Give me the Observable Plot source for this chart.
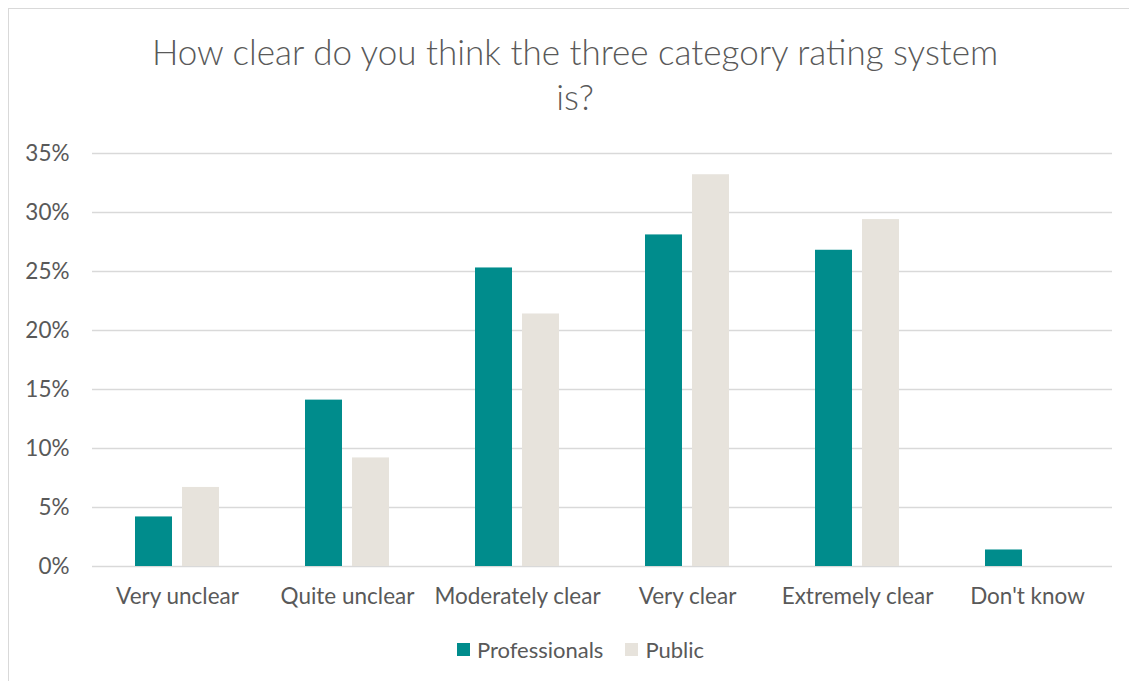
<!DOCTYPE html>
<html>
<head>
<meta charset="utf-8">
<script src="https://cdn.jsdelivr.net/npm/d3@7"></script>
<script src="https://cdn.jsdelivr.net/npm/@observablehq/plot@0.6"></script>
<style>
  html, body { margin: 0; padding: 0; background: #fff; }
  body { width: 1129px; height: 681px; position: relative; overflow: hidden; font-family: Lato, "Open Sans", sans-serif; }
  #frame { position: absolute; left: 8px; top: 8px; width: 1140px; height: 700px; border: 1px solid #d9d9d9; box-sizing: border-box; }
  #title { position: absolute; left: 0; top: 29px; width: 1150px; text-align: center; font-family: Lato, sans-serif; font-weight: 300; font-size: 35px; line-height: 45px; color: #595959; }
  #chart { position: absolute; left: 0; top: 130px; }
  #legend { position: absolute; left: 0; top: 636px; width: 1129px; display: flex; justify-content: center; font-size: 22px; color: #595959; padding-left: 32px; box-sizing: border-box; }
  .item { display: flex; align-items: center; margin: 0 11px; }
  .sw { width: 13px; height: 13px; margin-right: 7px; }
</style>
</head>
<body>
<div id="frame"></div>
<div id="title">How clear do you think the three category rating system<br>is?</div>
<div id="chart"></div>
<div id="legend"></div>
<script>
const categories = ["Very unclear", "Quite unclear", "Moderately clear", "Very clear", "Extremely clear", "Don't know"];
const series = ["Professionals", "Public"];
const professionals = [4.2, 14.1, 25.3, 28.1, 26.8, 1.4];
const publicVals = [6.7, 9.2, 21.4, 33.2, 29.4, 0];
const colors = ["#008C8C", "#E7E3DC"];
const yTicks = [0, 5, 10, 15, 20, 25, 30, 35];

const data = [];
categories.forEach((c, i) => {
  data.push({category: c, series: series[0], value: professionals[i]});
  data.push({category: c, series: series[1], value: publicVals[i]});
});

const chart = Plot.plot({
  width: 1129,
  height: 490,
  marginLeft: 90,
  marginRight: 16,
  marginTop: 23,
  marginBottom: 54,
  style: {fontFamily: "Lato, sans-serif", fontSize: "22.5px", color: "#595959", background: "transparent"},
  fx: {domain: categories, padding: 0, label: null, tickSize: 0, tickPadding: 22, axis: "bottom"},
  x: {domain: series, axis: null, paddingInner: 0.208, paddingOuter: 0.88},
  y: {domain: [0, 35], ticks: yTicks, tickFormat: d => d + "%", label: null, tickSize: 0, tickPadding: 23},
  color: {domain: series, range: colors},
  marks: [
    Plot.gridY(yTicks, {stroke: "#d9d9d9", strokeOpacity: 1, strokeWidth: 1.3}),
    Plot.barY(data, {fx: "category", x: "series", y: "value", fill: "series", inset: 0}),
  ]
});
document.getElementById("chart").appendChild(chart);

const legend = document.getElementById("legend");
series.forEach((s, i) => {
  const it = document.createElement("div");
  it.className = "item";
  const sw = document.createElement("div");
  sw.className = "sw";
  sw.style.background = colors[i];
  const t = document.createElement("span");
  t.textContent = s;
  it.appendChild(sw);
  it.appendChild(t);
  legend.appendChild(it);
});
</script>
</body>
</html>
